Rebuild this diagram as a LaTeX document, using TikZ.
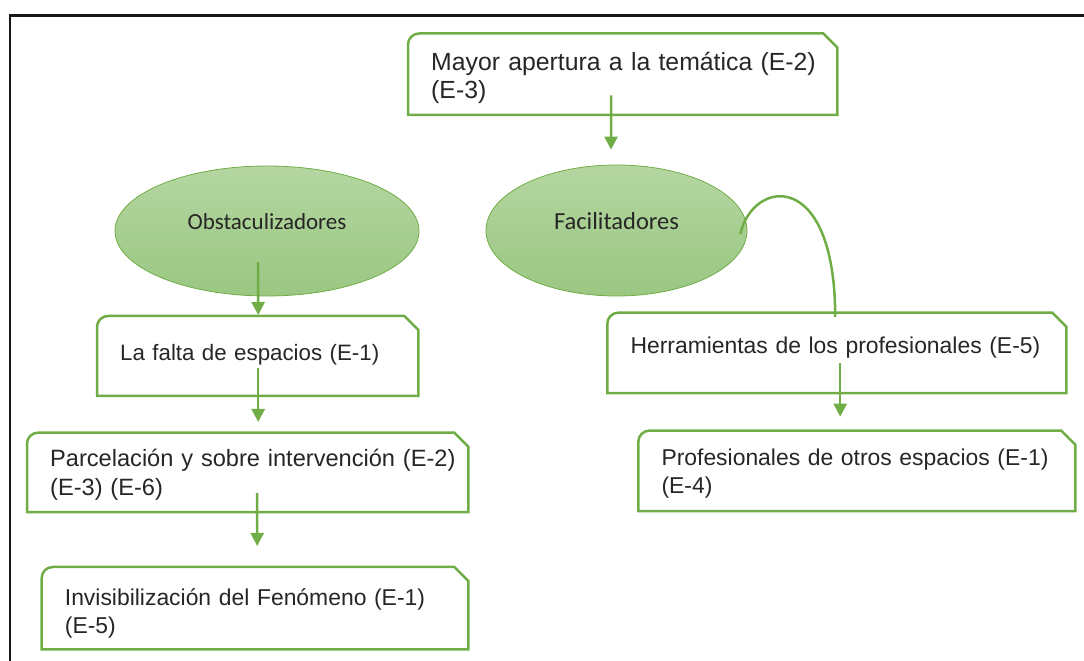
\documentclass[tikz,border=0pt]{standalone}
\usepackage{fontspec}
\setmainfont{Liberation Sans}
\newfontfamily\ovalfont{Carlito}
\usetikzlibrary{shapes.geometric,arrows.meta}

\definecolor{verde}{RGB}{112,173,71}
\definecolor{ovalarriba}{RGB}{181,214,161}
\definecolor{ovalabajo}{RGB}{154,199,130}
\definecolor{letra}{RGB}{38,38,38}

\tikzset{
  caja/.style={anchor=north west, inner xsep=23pt, inner ysep=0pt, align=left,
    text=letra, font=\fontsize{22.9}{28.3}\selectfont},
  borde/.style={draw=verde, line width=2.5pt},
  ovalo/.style={ellipse, draw=verde, line width=0.8pt, top color=ovalarriba,
    bottom color=ovalabajo, inner sep=0pt, text=letra, text height=17pt, text depth=19pt},
  flecha/.style={draw=verde, line width=2.5pt, -{Triangle[width=13pt,length=13pt]}},
  enlace/.style={draw=verde, line width=2.5pt},
  marco/.style={draw=black!90, line width=2.6pt}
}

% contorno de caja: esquina redondeada arriba a la izquierda, cortada a la derecha
\newcommand{\bordecaja}[1]{%
  \draw[borde] (#1.south west) -- ([yshift=-11pt]#1.north west)
    arc[start angle=180, end angle=90, radius=11pt]
    -- ([xshift=-14pt]#1.north east) -- ([yshift=-14pt]#1.north east)
    -- (#1.south east) -- cycle;}

\begin{document}
\begin{tikzpicture}[x=1pt,y=1pt]
    \useasboundingbox (0,0) rectangle (1084,661);
    \clip (0,0) rectangle (1084,661);
    \draw[marco] (10,-20) rectangle (1110,645.7);

    % ovalos
    \node[ovalo, minimum width=304pt, minimum height=130pt,
      font=\ovalfont\fontsize{23}{27}\selectfont] (obs) at (267,430) {Obstaculizadores};
    \node[ovalo, minimum width=261pt, minimum height=131pt,
      font=\ovalfont\fontsize{24.5}{28}\selectfont] (fac) at (616.5,430.5) {Facilitadores};

    % cajas
    \node[caja, text width=383pt, text height=37pt, text depth=44pt,
      font=\fontsize{24.8}{28.3}\selectfont] (may) at (408,627.5)
      {\mbox{Mayor apertura a la temática (E-2)}\\(E-3)};
    \node[caja, text width=275pt, text height=44pt, text depth=35.5pt,
      font=\fontsize{22.3}{28.3}\selectfont] (falta) at (97,345)
      {La falta de espacios (E-1)};
    \node[caja, text width=395pt, text height=34pt, text depth=45pt,
      font=\fontsize{23.6}{28.3}\selectfont] (parc) at (27,228.3)
      {\mbox{Parcelación y sobre intervención (E-2)}\\(E-3) (E-6)};
    \node[caja, text width=380.3pt, text height=38pt, text depth=44pt] (invis) at (41.7,94)
      {\mbox{Invisibilización del Fenómeno (E-1)}\\(E-5)};
    \node[caja, text width=412.7pt, text height=40.6pt, text depth=39.4pt] (herr) at (607.3,348.3)
      {\mbox{Herramientas de los profesionales (E-5)}};
    \node[caja, text width=390.7pt, text height=34.3pt, text depth=45.7pt] (prof) at (638.3,230.3)
      {\mbox{Profesionales de otros espacios (E-1)}\\(E-4)};

    \bordecaja{may}
    \bordecaja{falta}
    \bordecaja{parc}
    \bordecaja{invis}
    \bordecaja{herr}
    \bordecaja{prof}

    % conectores
    \draw[flecha] ([xshift=-11.5pt,yshift=19.5pt]may.south) -- ([xshift=-5.5pt,yshift=15pt]fac.north);
    \draw[flecha] ([xshift=-9pt,yshift=-31pt]obs.center) -- ([xshift=0.5pt,yshift=1pt]falta.north);
    \draw[flecha] ([xshift=0.5pt,yshift=27.5pt]falta.south) -- ([xshift=10.5pt,yshift=10.7pt]parc.north);
    \draw[flecha] ([xshift=9.5pt,yshift=19pt]parc.south) -- ([xshift=2.15pt,yshift=21pt]invis.north);
    \draw[flecha] ([xshift=3.35pt,yshift=29.7pt]herr.south) -- ([xshift=-16.65pt,yshift=14pt]prof.north);
    \draw[enlace] ([xshift=-7pt,yshift=-3.5pt]fac.east) .. controls +(12,55) and +(0,150)
      .. ([xshift=-1.65pt,yshift=-4.3pt]herr.north);
\end{tikzpicture}
\end{document}
